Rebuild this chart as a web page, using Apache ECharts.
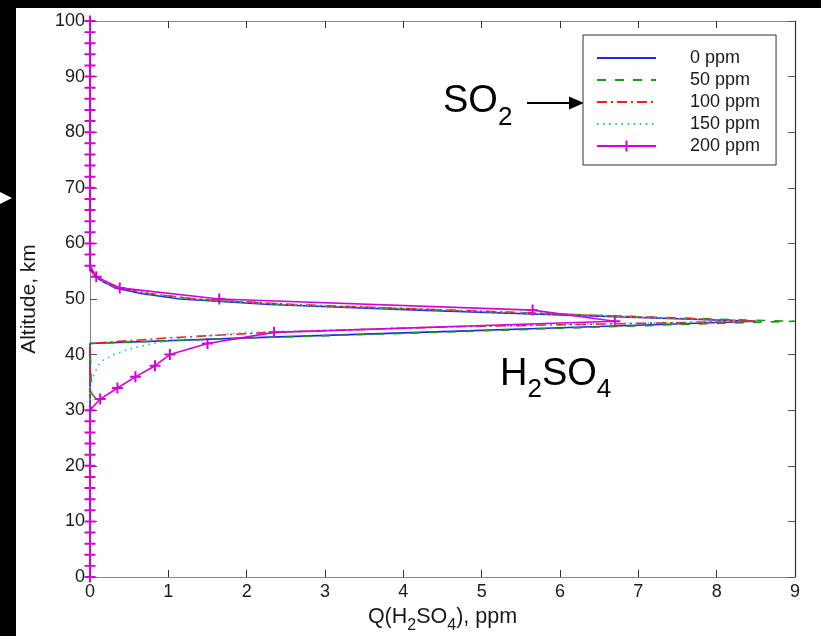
<!DOCTYPE html>
<html>
<head>
<meta charset="utf-8">
<script src="https://cdn.jsdelivr.net/npm/echarts@6/dist/echarts.min.js"></script>
<style>
html,body{margin:0;padding:0;background:#000;}
#chart{width:821px;height:636px;}
</style>
</head>
<body>
<div id="chart"></div>
<script>
// ---- Data ----
const xTicks = [0,1,2,3,4,5,6,7,8,9];
const yTicks = [0,10,20,30,40,50,60,70,80,90,100];
const seriesNames = ['0 ppm','50 ppm','100 ppm','150 ppm','200 ppm'];

// 0 ppm
const alt0 = [0, 42, 43, 44, 45, 46, 47, 48, 49, 50, 51, 52, 53, 54, 55, 56, 100];
const q0   = [0, 0, 2.0, 4.2, 6.4, 8.5, 6.3, 4.2, 2.3, 1.15, 0.65, 0.32, 0.18, 0.07, 0.02, 0, 0];
// 50 ppm
const alt50 = [0, 30, 32, 33, 42, 43, 44, 45, 45.7, 46, 46.3, 47, 48, 49, 50, 51, 52, 53, 54, 55, 56, 100];
const q50   = [0, 0, 0.08, 0.02, 0, 2.1, 4.4, 6.6, 8.2, 9.0, 8.2, 6.6, 4.5, 2.5, 1.3, 0.75, 0.38, 0.2, 0.08, 0.02, 0, 0];
// 100 ppm
const alt100 = [0, 42, 43, 44, 45, 46, 47, 48, 49, 50, 51, 52, 53, 54, 55, 56, 100];
const q100   = [0, 0, 1.0, 2.3, 4.6, 8.5, 6.6, 4.6, 2.6, 1.35, 0.75, 0.38, 0.18, 0.07, 0.02, 0, 0];
// 150 ppm
const alt150 = [0, 34, 35, 36, 37, 38, 39, 40, 41, 42, 43, 44, 45, 46, 47, 48, 49, 50, 51, 52, 53, 54, 55, 56, 100];
const q150   = [0, 0, 0.02, 0.04, 0.07, 0.1, 0.17, 0.3, 0.5, 0.8, 1.2, 2.0, 4.6, 8.3, 6.5, 4.5, 2.5, 1.3, 0.72, 0.36, 0.17, 0.06, 0.02, 0, 0];
// 200 ppm (every 2 km)
const alt200 = [0,2,4,6,8,10,12,14,16,18,20,22,24,26,28,30,32,34,36,38,40,42,44,46,48,50,52,54,56,58,60,62,64,66,68,70,72,74,76,78,80,82,84,86,88,90,92,94,96,98,100];
const q200   = [0,0,0,0,0,0,0,0,0,0,0,0,0,0,0,0,0.13,0.35,0.58,0.83,1.02,1.5,2.35,6.7,5.65,1.65,0.38,0.08,0,0,0,0,0,0,0,0,0,0,0,0,0,0,0,0,0,0,0,0,0,0,0];

const pairs = (q, a) => q.map((v, i) => [v, a[i]]);

const FONT = 'Liberation Sans, Arial, Helvetica, sans-serif';
const plus = 'path://M0,4.1h10v1.8h-10z M4.1,0h1.8v10h-1.8z';

const chart = echarts.init(document.getElementById('chart'), null, {renderer: 'canvas'});

const baseX = {
  type: 'value', min: 0, max: 9, interval: 1,
  splitLine: {show: false},
  axisLine: {show: true, onZero: false, lineStyle: {color: '#8a8a8a', width: 1.2}},
  axisTick: {show: true, inside: true, length: 7, lineStyle: {color: '#333', width: 1}}
};
const baseY = {
  type: 'value', min: 0, max: 100, interval: 10,
  splitLine: {show: false},
  axisLine: {show: true, onZero: false, lineStyle: {color: '#8a8a8a', width: 1.2}},
  axisTick: {show: true, inside: true, length: 7, lineStyle: {color: '#555', width: 1}}
};

const hiddenMarker = {color: 'rgba(0,0,0,0)', borderWidth: 0, opacity: 0};

const option = {
  animation: false,
  backgroundColor: '#000',
  textStyle: {fontFamily: FONT},
  grid: {left: 90, right: 26, top: 21, bottom: 59, containLabel: false, outerBoundsMode: 'none'},
  xAxis: [
    Object.assign({}, baseX, {
      position: 'bottom',
      axisLabel: {fontSize: 18, color: '#1a1a1a', margin: 6, fontFamily: FONT},
      name: '{n|Q(H}{s|2}{n|SO}{s|4}{n|), ppm}',
      nameLocation: 'middle', nameGap: 19,
      nameTextStyle: {
        color: '#1a1a1a', fontFamily: FONT,
        rich: {
          n: {fontSize: 21.5, lineHeight: 33, color: '#1a1a1a', fontFamily: FONT},
          s: {fontSize: 16, lineHeight: 10, verticalAlign: 'bottom', color: '#1a1a1a', fontFamily: FONT}
        }
      }
    }),
    Object.assign({}, baseX, {
      position: 'top',
      axisLabel: {show: false}
    })
  ],
  yAxis: [
    Object.assign({}, baseY, {
      position: 'left',
      axisLabel: {fontSize: 18, color: '#1a1a1a', margin: 5, fontFamily: FONT},
      name: 'Altitude, km', nameLocation: 'middle', nameGap: 50,
      nameTextStyle: {fontSize: 21, color: '#1a1a1a', fontFamily: FONT}
    }),
    Object.assign({}, baseY, {
      position: 'right',
      axisLabel: {show: false},
      axisLine: {show: true, onZero: false, lineStyle: {color: '#333', width: 1.2}}
    })
  ],
  legend: {
    orient: 'vertical', left: 583, top: 35,
    data: [
      {name: seriesNames[0], itemStyle: hiddenMarker},
      {name: seriesNames[1], itemStyle: hiddenMarker},
      {name: seriesNames[2], itemStyle: hiddenMarker},
      {name: seriesNames[3], itemStyle: hiddenMarker},
      {name: seriesNames[4]}
    ],
    backgroundColor: '#fff',
    borderColor: '#333', borderWidth: 1,
    padding: [14, 16, 10, 13],
    itemWidth: 59, itemHeight: 14, itemGap: 4,
    textStyle: {fontSize: 18, color: '#1a1a1a', fontFamily: FONT, padding: [0, 0, 0, 29], lineHeight: 18}
  },
  graphic: [
    {type: 'rect', z: -100, silent: true, shape: {x: 16, y: 8, width: 805, height: 628}, style: {fill: '#fff'}},
    {type: 'polygon', silent: true, shape: {points: [[0, 192], [12, 198], [0, 204]]}, style: {fill: '#fff'}},
    {type: 'line', silent: true, shape: {x1: 527, y1: 103, x2: 573, y2: 103}, style: {stroke: '#000', lineWidth: 2}},
    {type: 'polygon', silent: true, shape: {points: [[569, 96.5], [584, 103], [569, 109.5]]}, style: {fill: '#000'}},
    {type: 'text', silent: true, x: 443, y: 102,
      style: {text: '{b|SO}{s|2}', textVerticalAlign: 'middle', textAlign: 'left',
        rich: {b: {fontSize: 38, lineHeight: 58, fill: '#000', fontFamily: FONT},
               s: {fontSize: 26, lineHeight: 2, verticalAlign: 'bottom', fill: '#000', fontFamily: FONT}}}},
    {type: 'text', silent: true, x: 500, y: 375,
      style: {text: '{b|H}{s|2}{b|SO}{s|4}', textVerticalAlign: 'middle', textAlign: 'left',
        rich: {b: {fontSize: 38, lineHeight: 56, fill: '#000', fontFamily: FONT},
               s: {fontSize: 26, lineHeight: 2, verticalAlign: 'bottom', fill: '#000', fontFamily: FONT}}}}
  ],
  series: [
    {name: seriesNames[0], type: 'line', symbol: 'none', data: pairs(q0, alt0),
      lineStyle: {color: '#2424ee', width: 1.6, type: 'solid'}, itemStyle: {color: '#2424ee'}},
    {name: seriesNames[1], type: 'line', symbol: 'none', data: pairs(q50, alt50),
      lineStyle: {color: '#1a9a1a', width: 1.6, type: [9, 9]}, itemStyle: {color: '#1a9a1a'}},
    {name: seriesNames[2], type: 'line', symbol: 'none', data: pairs(q100, alt100),
      lineStyle: {color: '#ff1a1a', width: 1.6, type: [10, 4, 2, 4]}, itemStyle: {color: '#ff1a1a'}},
    {name: seriesNames[3], type: 'line', symbol: 'none', data: pairs(q150, alt150),
      lineStyle: {color: '#22c4c4', width: 1.6, type: [1.6, 4.5]}, itemStyle: {color: '#22c4c4'}},
    {name: seriesNames[4], type: 'line', symbol: plus, symbolSize: 11, showSymbol: true, data: pairs(q200, alt200),
      lineStyle: {color: '#d800d8', width: 1.6, type: 'solid'}, itemStyle: {color: '#d800d8'}}
  ]
};
chart.setOption(option);
</script>
</body>
</html>
